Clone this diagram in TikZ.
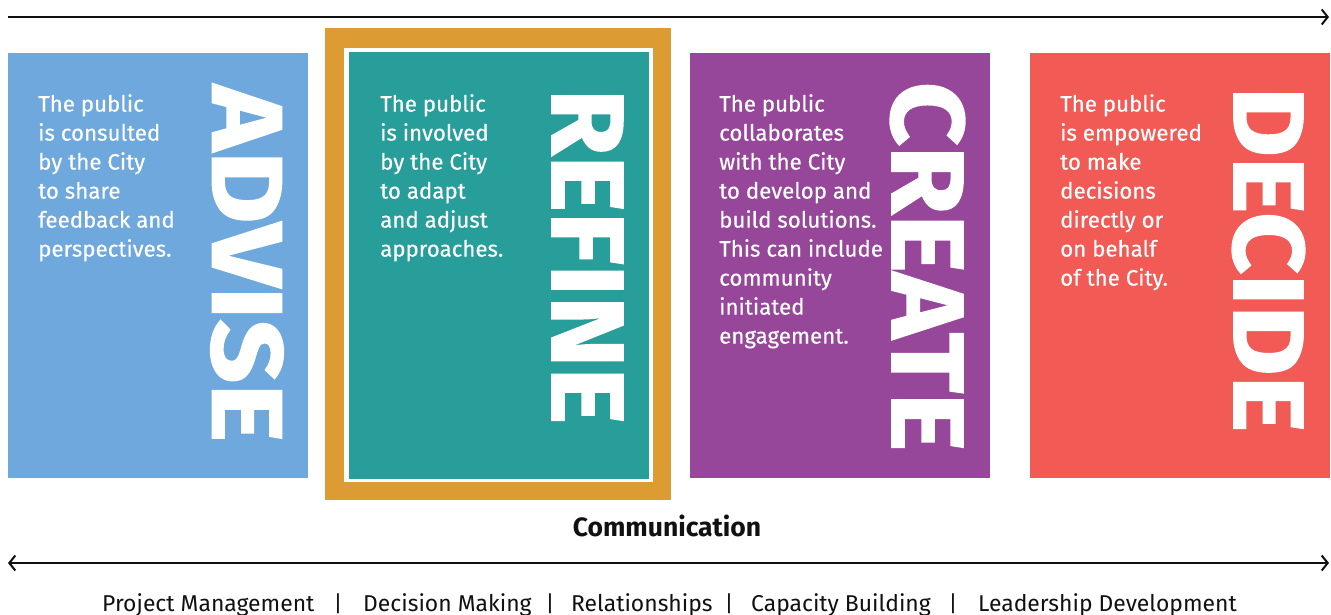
\documentclass[tikz,border=0pt]{standalone}
\usepackage{fontspec}
\setmainfont{Fira Sans}
\newfontfamily\heavyfont{Fira Sans}[FakeBold=1.5]
\newfontfamily\descfont{Fira Sans}[FakeBold=0.3]
\usetikzlibrary{arrows.meta}
\definecolor{advblue}{HTML}{6FA8DC}
\definecolor{refteal}{HTML}{289E9A}
\definecolor{crepurple}{HTML}{964799}
\definecolor{decred}{HTML}{F15A55}
\definecolor{highorange}{HTML}{DD9B34}
\definecolor{inkblack}{HTML}{111111}
\begin{document}
\begin{tikzpicture}[x=1pt,y=-1pt,
  desc/.style={anchor=north west, inner sep=0pt, align=left, text=white,
    font=\descfont\fontsize{22.3}{29}\selectfont},
  bigword/.style={rotate=-90, inner sep=0pt, text=white},
  flowline/.style={draw=inkblack, line width=2.2pt},
  bottomlabel/.style={anchor=base west, inner sep=0pt, text=inkblack,
    font=\fontsize{22.9}{26}\selectfont},
  sep/.style={anchor=base, inner sep=0pt, text=inkblack,
    font=\fontsize{22}{26}\selectfont}
]
\useasboundingbox (0,0) rectangle (1331,615);
\fill[white] (0,0) rectangle (1331,615);

% top arrow
\coordinate (topL) at (8,17);
\coordinate (topR) at (1329,17);
\draw[flowline, -{Straight Barb[length=6pt,width=15pt,line width=2pt]}] (topL) -- (topR);

% cards
\fill[advblue] (8,53) rectangle (308,478);
\fill[highorange] (325,28) rectangle (671,500);
\fill[white] (344,48) rectangle (653,482);
\fill[refteal] (349,52) rectangle (649,479);
\fill[crepurple] (690,53) rectangle (990,478);
\fill[decred] (1030,53) rectangle (1330,478);

% big words
\node[bigword] (advw) at (247,263.5) {\resizebox{357pt}{71pt}{\heavyfont\bfseries ADVISE}};
\node[bigword] (refw) at (587.5,256.5) {\resizebox{335pt}{71pt}{\heavyfont\bfseries REFINE}};
\node[bigword] (crew) at (927.5,266.5) {\resizebox{369pt}{73pt}{\heavyfont\bfseries CREATE}};
\node[bigword] (decw) at (1268.5,259.5) {\resizebox{345pt}{71pt}{\heavyfont\bfseries DECIDE}};

% descriptions
\node[desc] (advt) at (38,94) {The public\\is consulted\\by the City\\to share\\feedback and\\perspectives.};
\node[desc] (reft) at (380,94) {The public\\is involved\\by the City\\to adapt\\and adjust\\approaches.};
\node[desc] (cret) at (719,94) {The public\\collaborates\\with the City\\to develop and\\build solutions.\\This can include\\community\\initiated\\engagement.};
\node[desc] (dect) at (1060,94) {The public\\is empowered\\to make\\decisions\\directly or\\on behalf\\of the City.};

% communication
\node[anchor=base, inner sep=0pt, text=inkblack, font=\fontsize{26.5}{28}\selectfont\bfseries] (comm) at (667,536) {Communication};
\coordinate (botL) at (8,563);
\coordinate (botR) at (1329,563);
\draw[flowline, {Straight Barb[length=6pt,width=15pt,line width=2pt]}-{Straight Barb[length=6pt,width=15pt,line width=2pt]}] (botL) -- (botR);

% bottom labels
\node[bottomlabel] (pm) at (102,611) {Project Management};
\node[sep] (s1) at (338,611) {|};
\node[bottomlabel] (dm) at (363,611) {Decision Making};
\node[sep] (s2) at (550,611) {|};
\node[bottomlabel] (rel) at (571,611) {Relationships};
\node[sep] (s3) at (729,611) {|};
\node[bottomlabel] (cb) at (751,611) {Capacity Building};
\node[sep] (s4) at (953,611) {|};
\node[bottomlabel] (ld) at (978,611) {Leadership Development};
\end{tikzpicture}
\end{document}
